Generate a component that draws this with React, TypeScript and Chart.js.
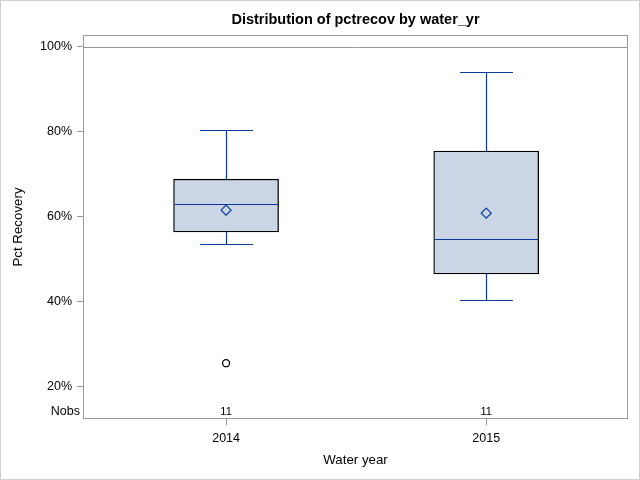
import React, { useEffect, useRef } from 'react';
import { Chart, registerables } from 'chart.js';

Chart.register(...registerables);

// ---- data ----
const years = [2014, 2015];
const whiskerLow = [53.6, 40.5];
const q1 = [56.5, 46.6];
const median = [63.1, 54.8];
const q3 = [68.9, 75.5];
const whiskerHigh = [80.4, 94.1];
const means = [61.6, 60.9];
const outlierYears = [2014];
const outlierValues = [25.6];
const nobs = [11, 11];
const yTickValues = [20, 40, 60, 80, 100];
const refLineValue = 100;

const FONT = "'Liberation Sans', Arial, Helvetica, sans-serif";
const LINE = '#0b3a9c';
const FILL = '#cad5e5';
const FRAME = '#9a9a9a';

const boxPlugin = {
  id: 'boxExtras',
  beforeDraw(chart: any) {
    const { ctx, width, height } = chart;
    ctx.save();
    ctx.fillStyle = '#fff';
    ctx.fillRect(0, 0, width, height);
    ctx.strokeStyle = '#d0d0d0';
    ctx.lineWidth = 1;
    ctx.strokeRect(0.5, 0.5, width - 1, height - 1);
    ctx.restore();
  },
  beforeDatasetsDraw(chart: any) {
    const { ctx, chartArea, scales } = chart;
    const y = Math.round(scales.y.getPixelForValue(refLineValue)) + 0.5;
    ctx.save();
    ctx.strokeStyle = FRAME;
    ctx.lineWidth = 1;
    ctx.beginPath();
    ctx.moveTo(chartArea.left, y);
    ctx.lineTo(chartArea.right, y);
    ctx.stroke();
    ctx.restore();
  },
  afterDatasetDraw(chart: any, args: any) {
    if (args.index !== 0) return;
    const { ctx, scales } = chart;
    const xs = scales.x, ys = scales.y;
    ctx.save();
    ctx.strokeStyle = LINE;
    ctx.lineWidth = 1.2;
    years.forEach((yr, i) => {
      const cx = Math.round(xs.getPixelForValue(yr)) + 0.5;
      const capHalf = 26.5;
      const boxHalf = 52;
      const pHi = Math.round(ys.getPixelForValue(whiskerHigh[i])) + 0.5;
      const pQ3 = ys.getPixelForValue(q3[i]);
      const pQ1 = ys.getPixelForValue(q1[i]);
      const pLo = Math.round(ys.getPixelForValue(whiskerLow[i])) + 0.5;
      const pMed = Math.round(ys.getPixelForValue(median[i])) + 0.5;
      ctx.beginPath();
      ctx.moveTo(cx, pHi); ctx.lineTo(cx, pQ3);
      ctx.moveTo(cx - capHalf, pHi); ctx.lineTo(cx + capHalf, pHi);
      ctx.moveTo(cx, pQ1); ctx.lineTo(cx, pLo);
      ctx.moveTo(cx - capHalf, pLo); ctx.lineTo(cx + capHalf, pLo);
      ctx.moveTo(cx - boxHalf, pMed); ctx.lineTo(cx + boxHalf, pMed);
      ctx.stroke();
    });
    ctx.restore();
  },
  afterDraw(chart: any) {
    const { ctx, chartArea, scales } = chart;
    ctx.save();
    ctx.strokeStyle = FRAME;
    ctx.lineWidth = 1;
    ctx.strokeRect(
      Math.round(chartArea.left) + 0.5,
      Math.round(chartArea.top) + 0.5,
      Math.round(chartArea.right - chartArea.left) - 1,
      Math.round(chartArea.bottom - chartArea.top) - 1
    );
    const rowY = chartArea.bottom - 7;
    ctx.fillStyle = '#000';
    ctx.textBaseline = 'middle';
    ctx.textAlign = 'right';
    ctx.font = `12.5px ${FONT}`;
    ctx.fillText('Nobs', chartArea.left - 3, rowY);
    ctx.textAlign = 'center';
    ctx.font = `11px ${FONT}`;
    years.forEach((yr, i) => {
      ctx.fillText(String(nobs[i]), scales.x.getPixelForValue(yr), rowY);
    });
    ctx.restore();
  },
};

export default function App() {
  const ref = useRef<HTMLCanvasElement | null>(null);
  useEffect(() => {
    if (!ref.current) return;
    const chart = new Chart(ref.current, {
      type: 'bar',
      data: {
        datasets: [
          {
            type: 'bar',
            order: 5,
            data: years.map((x, i) => ({ x, y: [q1[i], q3[i]] })) as any,
            backgroundColor: FILL,
            borderColor: '#000',
            borderWidth: 1.3,
            borderSkipped: false,
            barThickness: 105,
            grouped: false,
          } as any,
          {
            type: 'scatter',
            order: 1,
            data: years.map((x, i) => ({ x, y: means[i] })),
            pointStyle: 'rectRot',
            radius: 5,
            borderColor: LINE,
            borderWidth: 1.2,
            backgroundColor: 'rgba(0,0,0,0)',
          } as any,
          {
            type: 'scatter',
            order: 0,
            data: outlierYears.map((x, i) => ({ x, y: outlierValues[i] })),
            pointStyle: 'circle',
            radius: 3.5,
            borderColor: '#000',
            borderWidth: 1.3,
            backgroundColor: 'rgba(0,0,0,0)',
          } as any,
        ],
      },
      options: {
        animation: false,
        responsive: false,
        devicePixelRatio: 1,
        layout: { padding: { left: 0, right: 12, top: 0, bottom: 0 } },
        plugins: {
          legend: { display: false },
          tooltip: { enabled: false },
          title: {
            display: true,
            fullSize: false,
            text: 'Distribution of pctrecov by water_yr',
            color: '#000',
            font: { family: FONT, size: 14.5, weight: 'bold' },
            padding: { top: 10.8, bottom: 6.8 },
          } as any,
        },
        scales: {
          x: {
            type: 'linear',
            offset: false,
            min: 2013.45,
            max: 2015.545,
            afterBuildTicks: (s: any) => {
              s.ticks = years.map((v) => ({ value: v }));
            },
            afterFit: (s: any) => {
              s.height = 61;
            },
            ticks: {
              callback: (v: any) => String(v),
              color: '#000',
              font: { family: FONT, size: 12.5 },
              padding: 6,
              autoSkip: false,
              maxRotation: 0,
            },
            grid: { display: true, offset: false, drawOnChartArea: false, drawTicks: true, tickLength: 6, color: FRAME },
            border: { display: false },
            title: {
              display: true,
              text: 'Water year',
              color: '#000',
              font: { family: FONT, size: 13.3 },
              padding: { top: 0, bottom: 11.5 },
            },
          },
          y: {
            type: 'linear',
            min: 12.47,
            max: 102.82,
            afterBuildTicks: (s: any) => {
              s.ticks = yTickValues.map((v) => ({ value: v }));
            },
            afterFit: (s: any) => {
              s.width = 83;
            },
            ticks: {
              callback: (v: any) => `${v}%`,
              color: '#000',
              font: { family: FONT, size: 12.5 },
              padding: 5,
            },
            grid: { display: true, drawOnChartArea: false, drawTicks: true, tickLength: 6, color: FRAME },
            border: { display: false },
            title: {
              display: true,
              text: 'Pct Recovery',
              color: '#000',
              font: { family: FONT, size: 13.3 },
              padding: { top: 10, bottom: 0 },
            },
          },
        },
      } as any,
      plugins: [boxPlugin],
    });
    return () => chart.destroy();
  }, []);
  return (
    <div style={{ position: 'absolute', left: 0, top: 0, width: 640, height: 480 }}>
      <canvas ref={ref} width={640} height={480} style={{ display: 'block' }} />
    </div>
  );
}
